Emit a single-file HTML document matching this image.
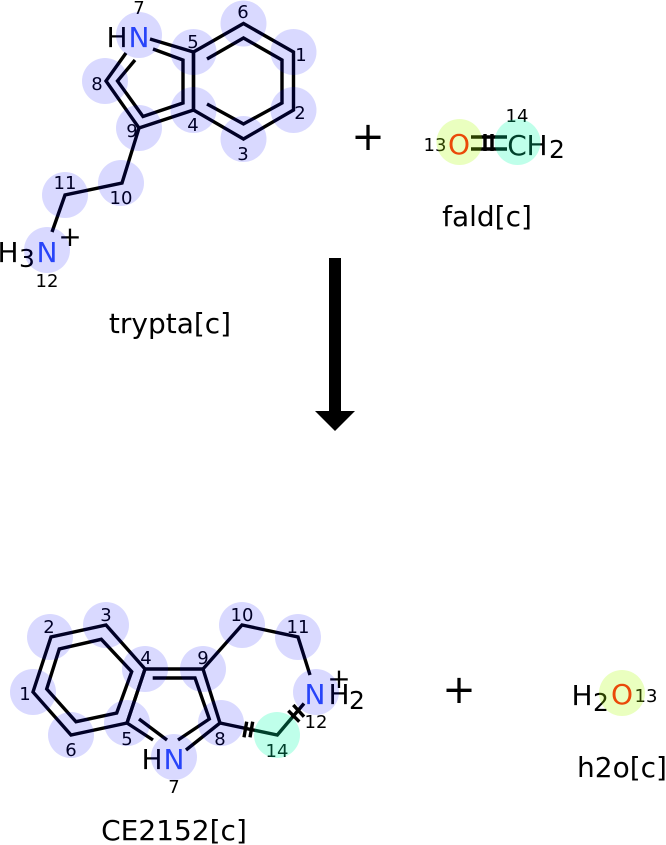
<!DOCTYPE html>
<html>
<head>
<meta charset="utf-8">
<style>
html,body{margin:0;padding:0;background:#fff;width:666px;height:845px;overflow:hidden}
svg{display:block}
text{font-family:"DejaVu Sans",sans-serif;text-anchor:middle;fill:#000}
.a{font-size:28px}
.s{font-size:25px}
.n{font-size:18px}
.l{font-size:28px}
.p{font-size:40px}
.N{fill:#3050f8}
.O{fill:#ff0d0d}
.b{fill:none;stroke:#000;stroke-width:3.4;stroke-linejoin:miter}
.c{fill:#0000ff;fill-opacity:.15}
.g{fill:#00ffaa;fill-opacity:.25}
.y{fill:#aaff00;fill-opacity:.25}
</style>
</head>
<body>
<svg width="666" height="845" viewBox="0 0 666 845" xmlns="http://www.w3.org/2000/svg">
<!-- trypta bonds -->
<g class="b">
<path d="M193.500 52L243.500 23.500L293.500 52V110L243.500 139L193.500 110Z"/>
<path d="M207 59L243.500 38L282 60V103L243.500 124L207 104"/>
<path d="M193.500 52V110L139 128L106 81L126 53"/>
<path d="M150 39L193.500 52"/>
<path d="M153 49L183 60V103L143 116.500L117.500 81L135 60"/>
<path d="M139 128L122 183L65 195L52 232"/>
</g>
<g>
<text class="a" x="117" y="47">H</text><text class="a N" x="139" y="47">N</text>
<text class="a" x="8" y="262">H</text><text class="s" x="27" y="267">3</text><text class="a N" x="47" y="262">N</text>
<text class="a" x="70" y="246">+</text>
<text class="n" x="243" y="18">6</text><text class="n" x="301" y="61">1</text><text class="n" x="300" y="119">2</text>
<text class="n" x="243" y="160">3</text><text class="n" x="193" y="131">4</text><text class="n" x="193" y="48">5</text>
<text class="n" x="139" y="14">7</text><text class="n" x="97" y="90">8</text><text class="n" x="132" y="137">9</text>
<text class="n" x="121" y="204">10</text><text class="n" x="65" y="189">11</text><text class="n" x="47" y="287">12</text>
<text class="l" x="170" y="333">trypta[c]</text>
</g>
<g>
<circle class="c" cx="243.500" cy="23.500" r="23"/><circle class="c" cx="293.500" cy="52" r="23"/>
<circle class="c" cx="293.500" cy="110" r="23"/><circle class="c" cx="243.500" cy="139" r="23"/>
<circle class="c" cx="193.500" cy="110" r="23"/><circle class="c" cx="193.500" cy="52" r="23"/>
<circle class="c" cx="139" cy="35" r="23"/><circle class="c" cx="105" cy="81" r="23"/>
<circle class="c" cx="139" cy="128" r="23"/><circle class="c" cx="121" cy="183" r="23"/>
<circle class="c" cx="65" cy="195" r="23"/><circle class="c" cx="47" cy="250" r="23"/>
</g>
<!-- plus 1 -->
<text class="p" x="368" y="150">+</text>
<!-- fald -->
<g class="b">
<path d="M471 137H507M471 149H507"/>
<path d="M485 134V151M492 134V151"/>
</g>
<text class="a O" x="459" y="154">O</text>
<text class="a" x="517" y="155">C</text><text class="a" x="537" y="155">H</text><text class="s" x="557" y="158">2</text>
<text class="n" x="435" y="151">13</text><text class="n" x="517" y="122">14</text>
<text class="l" x="487" y="226">fald[c]</text>
<circle class="y" cx="459.500" cy="142" r="23"/><circle class="g" cx="517.500" cy="142" r="23"/>
<!-- arrow -->
<path d="M329 258H341V411H355L335 431L315 411H329Z" fill="#000"/>
<!-- CE2152 bonds -->
<g class="b">
<path d="M145 669L106 625L51 637L33 692L71 735L127 723Z"/>
<path d="M131.700 671.700L116.700 713L76 721.700L46.700 689L59.300 649L101.300 639.300Z"/>
<path d="M145 669H203L220 723L186 750"/>
<path d="M145 669L127 723L153 740"/>
<path d="M152.700 678H195L209.300 719L178 740"/>
<path d="M139 719L167 740"/>
<path d="M203 669L242 625L298 637L310 675"/>
<path d="M220 723L277.300 735L304 703.500"/>
<path d="M246.700 721.700L244 737.300M252.700 721.700L250 737.300"/>
<path d="M293.300 705L304 716.700M288.300 710.700L299.300 721.700"/>
</g>
<g>
<text class="a" x="152" y="769">H</text><text class="a N" x="174" y="769">N</text>
<text class="a N" x="315" y="704">N</text><text class="a" x="339" y="704">H</text><text class="s" x="357" y="709">2</text>
<text class="a" x="339" y="688">+</text>
<text class="n" x="25" y="700">1</text><text class="n" x="49" y="633">2</text><text class="n" x="106" y="621">3</text>
<text class="n" x="146" y="664">4</text><text class="n" x="127" y="745">5</text><text class="n" x="71" y="756">6</text>
<text class="n" x="174" y="793">7</text><text class="n" x="220" y="745">8</text><text class="n" x="203" y="664">9</text>
<text class="n" x="242" y="621">10</text><text class="n" x="298" y="633">11</text><text class="n" x="316" y="728">12</text>
<text class="n" x="277" y="757">14</text>
<text class="l" x="174" y="840">CE2152[c]</text>
</g>
<g>
<circle class="c" cx="33" cy="692" r="23"/><circle class="c" cx="50" cy="637" r="23"/>
<circle class="c" cx="106" cy="625" r="23"/><circle class="c" cx="145" cy="669" r="23"/>
<circle class="c" cx="127" cy="723" r="23"/><circle class="c" cx="71" cy="735" r="23"/>
<circle class="c" cx="174" cy="757" r="23"/><circle class="c" cx="221" cy="723" r="23"/>
<circle class="c" cx="203" cy="669" r="23"/><circle class="c" cx="242" cy="625" r="23"/>
<circle class="c" cx="298" cy="637" r="23"/><circle class="c" cx="316" cy="692" r="23"/>
<circle class="g" cx="277" cy="735" r="23"/>
</g>
<!-- plus 2 -->
<text class="p" x="459" y="703">+</text>
<!-- water -->
<text class="a" x="582" y="705">H</text><text class="s" x="601" y="711">2</text>
<text class="a O" x="622" y="704">O</text>
<text class="n" x="646" y="702">13</text>
<text class="l" x="622" y="777">h2o[c]</text>
<circle class="y" cx="622" cy="693" r="23"/>
</svg>
</body>
</html>
